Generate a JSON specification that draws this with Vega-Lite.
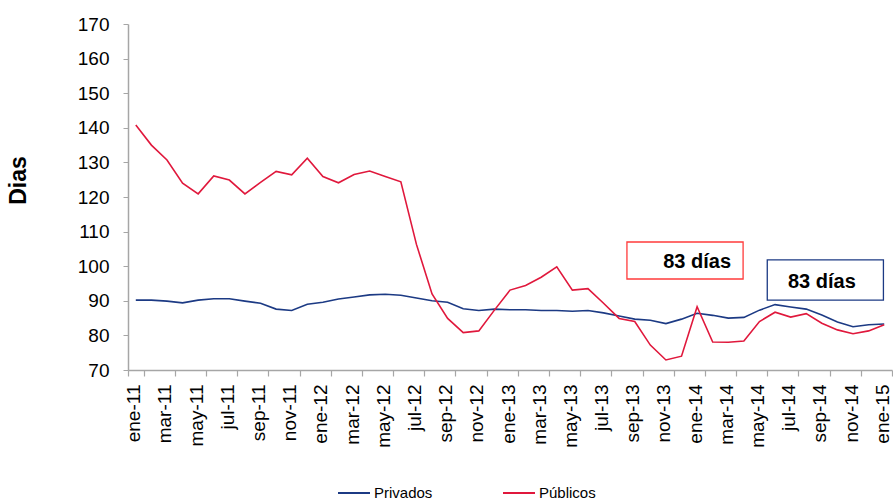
{
  "$schema": "https://vega.github.io/schema/vega-lite/v6.json",
  "width": 764,
  "height": 346,
  "autosize": {"type": "none"},
  "padding": {"left": 128, "top": 24, "right": 1, "bottom": 130},
  "background": "white",
  "config": {"view": {"stroke": null}, "font": "Liberation Sans"},
  "resolve": {"axis": {"x": "independent", "y": "independent"}},
  "datasets": {
    "series": [
      {"m": "ene-11", "s": "Privados", "v": 90.2}, {"m": "feb-11", "s": "Privados", "v": 90.2}, {"m": "mar-11", "s": "Privados", "v": 89.9}, {"m": "abr-11", "s": "Privados", "v": 89.4}, {"m": "may-11", "s": "Privados", "v": 90.2}, {"m": "jun-11", "s": "Privados", "v": 90.6}, {"m": "jul-11", "s": "Privados", "v": 90.6}, {"m": "ago-11", "s": "Privados", "v": 89.9}, {"m": "sep-11", "s": "Privados", "v": 89.3}, {"m": "oct-11", "s": "Privados", "v": 87.6}, {"m": "nov-11", "s": "Privados", "v": 87.2}, {"m": "dic-11", "s": "Privados", "v": 89.0},
      {"m": "ene-12", "s": "Privados", "v": 89.6}, {"m": "feb-12", "s": "Privados", "v": 90.5}, {"m": "mar-12", "s": "Privados", "v": 91.1}, {"m": "abr-12", "s": "Privados", "v": 91.7}, {"m": "may-12", "s": "Privados", "v": 91.9}, {"m": "jun-12", "s": "Privados", "v": 91.6}, {"m": "jul-12", "s": "Privados", "v": 90.8}, {"m": "ago-12", "s": "Privados", "v": 90.0}, {"m": "sep-12", "s": "Privados", "v": 89.6}, {"m": "oct-12", "s": "Privados", "v": 87.7}, {"m": "nov-12", "s": "Privados", "v": 87.2}, {"m": "dic-12", "s": "Privados", "v": 87.6},
      {"m": "ene-13", "s": "Privados", "v": 87.4}, {"m": "feb-13", "s": "Privados", "v": 87.4}, {"m": "mar-13", "s": "Privados", "v": 87.2}, {"m": "abr-13", "s": "Privados", "v": 87.2}, {"m": "may-13", "s": "Privados", "v": 87.0}, {"m": "jun-13", "s": "Privados", "v": 87.2}, {"m": "jul-13", "s": "Privados", "v": 86.5}, {"m": "ago-13", "s": "Privados", "v": 85.6}, {"m": "sep-13", "s": "Privados", "v": 84.7}, {"m": "oct-13", "s": "Privados", "v": 84.4}, {"m": "nov-13", "s": "Privados", "v": 83.4}, {"m": "dic-13", "s": "Privados", "v": 84.7},
      {"m": "ene-14", "s": "Privados", "v": 86.4}, {"m": "feb-14", "s": "Privados", "v": 85.8}, {"m": "mar-14", "s": "Privados", "v": 85.0}, {"m": "abr-14", "s": "Privados", "v": 85.2}, {"m": "may-14", "s": "Privados", "v": 87.3}, {"m": "jun-14", "s": "Privados", "v": 88.9}, {"m": "jul-14", "s": "Privados", "v": 88.2}, {"m": "ago-14", "s": "Privados", "v": 87.6}, {"m": "sep-14", "s": "Privados", "v": 85.9}, {"m": "oct-14", "s": "Privados", "v": 83.9}, {"m": "nov-14", "s": "Privados", "v": 82.5}, {"m": "dic-14", "s": "Privados", "v": 83.1},
      {"m": "ene-15", "s": "Privados", "v": 83.3},
      {"m": "ene-11", "s": "Públicos", "v": 140.8}, {"m": "feb-11", "s": "Públicos", "v": 135.0}, {"m": "mar-11", "s": "Públicos", "v": 130.7}, {"m": "abr-11", "s": "Públicos", "v": 124.0}, {"m": "may-11", "s": "Públicos", "v": 120.9}, {"m": "jun-11", "s": "Públicos", "v": 126.1}, {"m": "jul-11", "s": "Públicos", "v": 124.9}, {"m": "ago-11", "s": "Públicos", "v": 120.9}, {"m": "sep-11", "s": "Públicos", "v": 124.2}, {"m": "oct-11", "s": "Públicos", "v": 127.4}, {"m": "nov-11", "s": "Públicos", "v": 126.4}, {"m": "dic-11", "s": "Públicos", "v": 131.2},
      {"m": "ene-12", "s": "Públicos", "v": 125.9}, {"m": "feb-12", "s": "Públicos", "v": 124.1}, {"m": "mar-12", "s": "Públicos", "v": 126.5}, {"m": "abr-12", "s": "Públicos", "v": 127.5}, {"m": "may-12", "s": "Públicos", "v": 125.9}, {"m": "jun-12", "s": "Públicos", "v": 124.4}, {"m": "jul-12", "s": "Públicos", "v": 106.3}, {"m": "ago-12", "s": "Públicos", "v": 92.0}, {"m": "sep-12", "s": "Públicos", "v": 84.9}, {"m": "oct-12", "s": "Públicos", "v": 80.8}, {"m": "nov-12", "s": "Públicos", "v": 81.3}, {"m": "dic-12", "s": "Públicos", "v": 87.3},
      {"m": "ene-13", "s": "Públicos", "v": 93.1}, {"m": "feb-13", "s": "Públicos", "v": 94.4}, {"m": "mar-13", "s": "Públicos", "v": 96.8}, {"m": "abr-13", "s": "Públicos", "v": 99.8}, {"m": "may-13", "s": "Públicos", "v": 93.1}, {"m": "jun-13", "s": "Públicos", "v": 93.5}, {"m": "jul-13", "s": "Públicos", "v": 89.3}, {"m": "ago-13", "s": "Públicos", "v": 84.9}, {"m": "sep-13", "s": "Públicos", "v": 84.0}, {"m": "oct-13", "s": "Públicos", "v": 77.2}, {"m": "nov-13", "s": "Públicos", "v": 72.9}, {"m": "dic-13", "s": "Públicos", "v": 74.0},
      {"m": "ene-14", "s": "Públicos", "v": 88.3}, {"m": "feb-14", "s": "Públicos", "v": 78.1}, {"m": "mar-14", "s": "Públicos", "v": 78.0}, {"m": "abr-14", "s": "Públicos", "v": 78.4}, {"m": "may-14", "s": "Públicos", "v": 84.0}, {"m": "jun-14", "s": "Públicos", "v": 86.7}, {"m": "jul-14", "s": "Públicos", "v": 85.3}, {"m": "ago-14", "s": "Públicos", "v": 86.3}, {"m": "sep-14", "s": "Públicos", "v": 83.5}, {"m": "oct-14", "s": "Públicos", "v": 81.6}, {"m": "nov-14", "s": "Públicos", "v": 80.5}, {"m": "dic-14", "s": "Públicos", "v": 81.3},
      {"m": "ene-15", "s": "Públicos", "v": 83.1}
    ],
    "notes": [
      {"m0": "sep-13", "m1": "abr-14", "y0": 96.3, "y1": 107.0, "mt": "ene-14", "yt": 101.2, "label": "83 días", "s": "Públicos"},
      {"m0": "jun-14", "m1": "ene-15", "y0": 90.2, "y1": 101.8, "mt": "sep-14", "yt": 95.4, "label": "83 días", "s": "Privados"}
    ]
  },
  "layer": [
    {
      "data": {"name": "series"},
      "mark": {"type": "line", "strokeWidth": 1.6},
      "encoding": {
        "x": {
          "field": "m", "type": "ordinal", "bandPosition": 0.5,
          "scale": {"type": "band", "paddingInner": 0, "paddingOuter": 0,
            "domain": ["ene-11","feb-11","mar-11","abr-11","may-11","jun-11","jul-11","ago-11","sep-11","oct-11","nov-11","dic-11","ene-12","feb-12","mar-12","abr-12","may-12","jun-12","jul-12","ago-12","sep-12","oct-12","nov-12","dic-12","ene-13","feb-13","mar-13","abr-13","may-13","jun-13","jul-13","ago-13","sep-13","oct-13","nov-13","dic-13","ene-14","feb-14","mar-14","abr-14","may-14","jun-14","jul-14","ago-14","sep-14","oct-14","nov-14","dic-14","ene-15"]},
          "axis": {
            "title": null,
            "values": ["ene-11","mar-11","may-11","jul-11","sep-11","nov-11","ene-12","mar-12","may-12","jul-12","sep-12","nov-12","ene-13","mar-13","may-13","jul-13","sep-13","nov-13","ene-14","mar-14","may-14","jul-14","sep-14","nov-14","ene-15"],
            "tickBand": "extent",
            "labelAngle": -90,
            "labelFontSize": 19,
            "labelOffset": -2,
            "labelColor": "#000000",
            "labelPadding": 8,
            "labelOverlap": false,
            "labelFlush": false,
            "tickSize": 6,
            "tickColor": "#a6a6a6",
            "domainColor": "#a6a6a6",
            "domainWidth": 1.5,
            "tickWidth": 1.2,
            "grid": false
          }
        },
        "y": {
          "field": "v", "type": "quantitative",
          "scale": {"domain": [70, 170], "nice": false, "zero": false},
          "axis": {
            "title": "Dias",
            "titleFontSize": 23,
            "titleFontWeight": "bold",
            "titleColor": "#000000",
            "titleX": -103,
            "titleY": 156,
            "titleBaseline": "alphabetic",
            "titleAngle": -90,
            "values": [70, 80, 90, 100, 110, 120, 130, 140, 150, 160, 170],
            "labelOverlap": false,
            "labelFontSize": 19,
            "labelColor": "#000000",
            "labelPadding": 14,
            "tickSize": 5,
            "tickColor": "#a6a6a6",
            "domainColor": "#a6a6a6",
            "domainWidth": 1.5,
            "grid": false
          }
        },
        "color": {
          "field": "s", "type": "nominal",
          "scale": {"domain": ["Privados", "Públicos"], "range": ["#1c3a84", "#e0183c"]},
          "legend": {
            "title": null,
            "orient": "none",
            "direction": "horizontal",
            "legendX": 209,
            "legendY": 452,
            "symbolType": "stroke",
            "symbolSize": 1024,
            "symbolStrokeWidth": 2,
            "labelFontSize": 15,
            "labelColor": "#000000",
            "labelOffset": 3,
            "columnPadding": 66
          }
        }
      }
    },
    {
      "data": {"name": "notes"},
      "mark": {"type": "rect", "fill": "white", "strokeWidth": 1.3},
      "encoding": {
        "x": {"field": "m0", "type": "ordinal", "bandPosition": 0, "axis": null},
        "x2": {"field": "m1", "bandPosition": 0.45},
        "y": {"field": "y0", "type": "quantitative", "axis": null},
        "y2": {"field": "y1"},
        "stroke": {"field": "s", "type": "nominal", "scale": {"domain": ["Privados", "Públicos"], "range": ["#1c3a84", "#ff3b3b"]}, "legend": null}
      }
    },
    {
      "data": {"name": "notes"},
      "mark": {"type": "text", "fontSize": 20, "fontWeight": "bold", "color": "#000000", "align": "center", "baseline": "middle"},
      "encoding": {
        "x": {"field": "mt", "type": "ordinal", "bandPosition": 0.5, "axis": null},
        "y": {"field": "yt", "type": "quantitative", "axis": null},
        "text": {"field": "label"}
      }
    }
  ]
}
